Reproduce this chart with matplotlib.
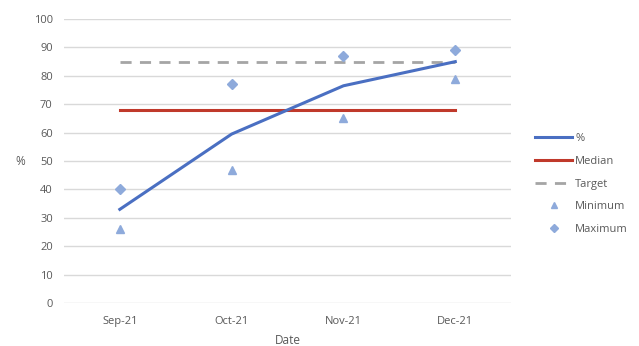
import matplotlib
matplotlib.use('Agg')
import matplotlib.pyplot as plt
import numpy as np

plt.rcParams['font.family'] = ['Open Sans', 'DejaVu Sans']

# monthly values
months = ['Sep-21', 'Oct-21', 'Nov-21', 'Dec-21']
pct = [33, 59.5, 76.5, 85]
median = [68, 68, 68, 68]
target = [85, 85, 85, 85]
minimum = [26, 47, 65, 79]
maximum = [40, 77, 87, 89]

txt = '#595959'
grid = '#d9d9d9'

fig = plt.figure(figsize=(6.39, 3.46), dpi=100)
ax = fig.add_axes([0.100, 0.124, 0.700, 0.821])

x = np.arange(len(months)) + 0.5
ax.plot(x, pct, color='#4a6fc2', lw=2.2, label='%', zorder=4)
ax.plot(x, median, color='#c0392b', lw=2.2, label='Median', zorder=3)
ax.plot(x, target, color='#a5a5a5', lw=2.0, ls=(0, (4, 3)), label='Target', zorder=3)
ax.plot(x, minimum, ls='none', marker='^', ms=6, color='#8eaadb', label='Minimum', zorder=5)
ax.plot(x, maximum, ls='none', marker='D', ms=5, color='#8eaadb', label='Maximum', zorder=5)

ax.set_xlim(0, 4)
ax.set_ylim(0, 100)
ax.set_yticks(range(0, 101, 10))
ax.set_xticks(x)
ax.set_xticklabels(months)
ax.grid(axis='y', color=grid, lw=1)
ax.set_axisbelow(True)
for s in ax.spines.values():
    s.set_visible(False)
ax.tick_params(length=0, colors=txt, labelsize=8)
ax.tick_params(axis='y', pad=8)
ax.tick_params(axis='x', pad=9)

ax.set_xlabel('Date', color=txt, fontsize=8.5, labelpad=5)
ax.set_ylabel('%', color=txt, fontsize=8.5, rotation=0, labelpad=10, va='center')

leg = fig.legend(loc='center left', bbox_to_anchor=(0.822, 0.468), frameon=False,
                 fontsize=8, labelcolor=txt, handlelength=3.3, handletextpad=0.3,
                 labelspacing=1.05, markerscale=0.8)

fig.savefig('out.png', dpi=100)
